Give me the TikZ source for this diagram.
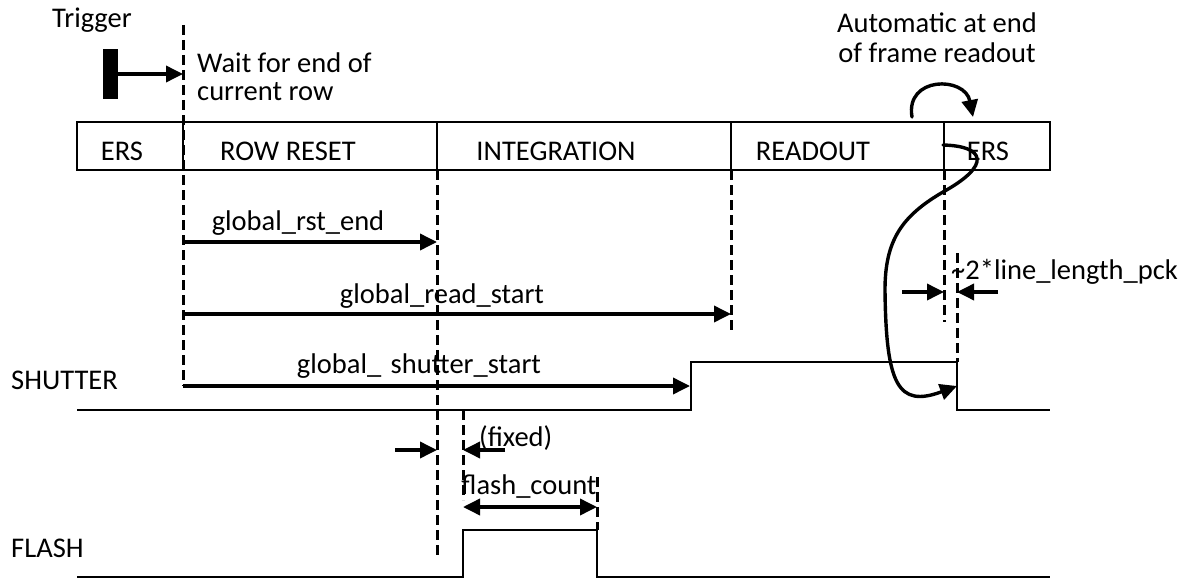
\documentclass[tikz,border=0pt]{standalone}
\usepackage{fontspec}
\setmainfont{Carlito}
\usetikzlibrary{arrows.meta}
\begin{document}
\begin{tikzpicture}[x=1pt,y=-1pt,
  sig/.style={line width=2.2pt},
  boxline/.style={line width=2pt},
  vdash/.style={line width=3pt,dash pattern=on 10pt off 5pt},
  arr/.style={line width=3.6pt,-{Triangle[length=17pt,width=16pt]}},
  darr/.style={line width=3.6pt,{Triangle[length=17pt,width=16pt]}-{Triangle[length=17pt,width=16pt]}},
  curvarr/.style={line width=3.4pt,line cap=round,-{Triangle[length=17pt,width=16pt]}},
  lbl/.style={font=\fontsize{28.5}{33}\selectfont,inner sep=0pt},
]
\useasboundingbox (0,0) rectangle (1195,578);
% ---------- texts
\node[lbl,anchor=base west] (trig) at (52,28) {Trigger};
\node[lbl,anchor=base west] (wait1) at (197,73) {Wait for end of};
\node[lbl,anchor=base west] (wait2) at (197,101) {current row};
\node[lbl,anchor=base] (auto1) at (937,33) {Automatic at end};
\node[lbl,anchor=base] (auto2) at (937,63) {of frame readout};
\node[lbl,anchor=base] (ers1) at (122,160) {ERS};
\node[lbl,anchor=base] (rowreset) at (288,160) {ROW RESET};
\node[lbl,anchor=base] (integ) at (556,160) {INTEGRATION};
\node[lbl,anchor=base] (readout) at (813,160) {READOUT};
\node[lbl,anchor=base] (ers2) at (988,160) {ERS};
\node[lbl,anchor=base] (lrst) at (298,230) {global\_rst\_end};
\node[lbl,anchor=base] (lread) at (442,303) {global\_read\_start};
\node[lbl,anchor=base] (lshut) at (419,373) {global\_\hspace{3pt} shutter\_start};
\node[lbl,anchor=base west] (lline) at (951,279) {\textasciitilde2*line\_length\_pck};
\node[lbl,anchor=base west] (lshutter) at (11,389) {SHUTTER};
\node[lbl,anchor=base west] (lfixed) at (479,446) {(fixed)};
\node[lbl,anchor=base] (lflash) at (529,494) {flash\_count};
\node[lbl,anchor=base west] (lflashsig) at (11,557) {FLASH};
% ---------- trigger bar
\node[fill=black,minimum width=15pt,minimum height=50pt,inner sep=0pt] (bar) at (110,74) {};
% ---------- coordinates
\coordinate (tA) at (183,25);
\coordinate (tB) at (183,386);
\coordinate (trigTip) at (183,74);
\coordinate (iA) at (437,170);
\coordinate (iB) at (437,555);
\coordinate (rA) at (731,170);
\coordinate (rB) at (731,330);
\coordinate (eA) at (944,170);
\coordinate (eB) at (944,322);
\coordinate (fA) at (957,253);
\coordinate (fB) at (957,362);
\coordinate (gA) at (463,410);
\coordinate (gB) at (463,500);
\coordinate (hA) at (597,477);
\coordinate (hB) at (597,530);
% box
\draw[boxline] (77,122) rectangle (1050,170);
\foreach \xx/\nm in {183/d1,437/d2,731/d3,944/d4}{
  \draw[boxline] (\xx,122) coordinate (\nm t) -- (\xx,170) coordinate (\nm b);
}
% dashed verticals
\draw[vdash] (tA) -- (tB);
\draw[vdash] (iA) -- (iB);
\draw[vdash] (rA) -- (rB);
\draw[vdash] (eA) -- (eB);
\draw[vdash] (fA) -- (fB);
\draw[vdash] (gA) -- (gB);
\draw[vdash] (hA) -- (hB);
% trigger arrow
\draw[arr] (bar.east) -- (trigTip);
% timing arrows
\coordinate (a1s) at (183,242); \coordinate (a1e) at (437,242);
\coordinate (a2s) at (183,314); \coordinate (a2e) at (731,314);
\coordinate (a3s) at (183,386); \coordinate (a3e) at (690,386);
\draw[arr] (a1s) -- (a1e);
\draw[arr] (a2s) -- (a2e);
\draw[arr] (a3s) -- (a3e);
% line length arrows
\coordinate (b1s) at (902,292); \coordinate (b1e) at (944,292);
\coordinate (b2s) at (998,292); \coordinate (b2e) at (957,292);
\draw[arr] (b1s) -- (b1e);
\draw[arr] (b2s) -- (b2e);
% fixed arrows
\coordinate (c1s) at (395,450); \coordinate (c1e) at (437,450);
\coordinate (c2s) at (505,450); \coordinate (c2e) at (463,450);
\draw[arr] (c1s) -- (c1e);
\draw[arr] (c2s) -- (c2e);
% flash count
\coordinate (fcL) at (463,507); \coordinate (fcR) at (597,507);
\draw[darr] (fcL) -- (fcR);
% shutter signal
\coordinate (s0) at (77,410); \coordinate (s1) at (691,410);
\coordinate (s2) at (691,362); \coordinate (s3) at (957,362);
\coordinate (s4) at (957,410); \coordinate (s5) at (1050,410);
\draw[sig] (s0) -- (s1) -- (s2) -- (s3) -- (s4) -- (s5);
% flash signal
\coordinate (q0) at (77,577); \coordinate (q1) at (463,577);
\coordinate (q2) at (463,530); \coordinate (q3) at (597,530);
\coordinate (q4) at (597,577); \coordinate (q5) at (1050,577);
\draw[sig] (q0) -- (q1) -- (q2) -- (q3) -- (q4) -- (q5);
% curved arrows
\coordinate (k0) at (912,117); \coordinate (k1) at (973,117);
\draw[curvarr] (k0) .. controls (905,76) and (965,76) .. (k1);
\coordinate (m0) at (943,145); \coordinate (m1) at (957,386);
\draw[curvarr] (m0) .. controls (985,146) and (992,165) .. (943,192)
  .. controls (902,216) and (885,240) .. (885,290)
  .. controls (886,385) and (898,408) .. (m1);
\end{tikzpicture}
\end{document}
